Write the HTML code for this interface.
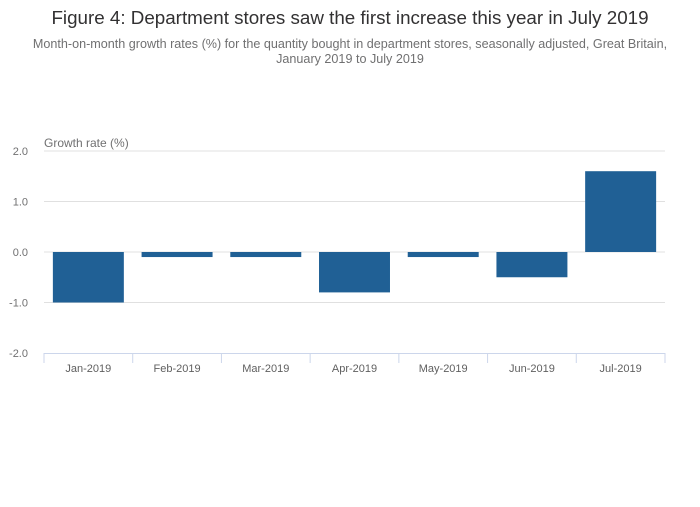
<!DOCTYPE html>
<html><head><meta charset="utf-8"><style>
body{margin:0;background:#fff;width:700px;height:502px;overflow:hidden;font-family:"Liberation Sans",sans-serif}
</style></head><body>
<svg width="700" height="502" font-family="Liberation Sans, sans-serif">
<text x="350" y="24" text-anchor="middle" font-size="18.8" fill="#323132">Figure 4: Department stores saw the first increase this year in July 2019</text>
<text x="350" y="48" text-anchor="middle" font-size="12.6" fill="#707071">Month-on-month growth rates (%) for the quantity bought in department stores, seasonally adjusted, Great Britain,</text>
<text x="350" y="63" text-anchor="middle" font-size="12.6" fill="#707071">January 2019 to July 2019</text>
<text x="44" y="147" font-size="12" fill="#707071">Growth rate (%)</text>
<g id="grid"></g><g id="bars"></g><g id="xaxis"></g>
</svg>
<script>
const categories=["Jan-2019","Feb-2019","Mar-2019","Apr-2019","May-2019","Jun-2019","Jul-2019"];
const values=[-1.0,-0.1,-0.1,-0.8,-0.1,-0.5,1.6];
const yTicks=[2,1,0,-1,-2];
const yTickLabels=["2.0","1.0","0.0","-1.0","-2.0"];
const NS="http://www.w3.org/2000/svg";
const L=44,R=665,T=151,B=353,ymin=-2,ymax=2;
const y=v=>B-(v-ymin)/(ymax-ymin)*(B-T);
const band=(R-L)/categories.length;
const x=i=>L+i*band;
function mk(t,a,p){const e=document.createElementNS(NS,t);for(const k in a)e.setAttribute(k,a[k]);p.appendChild(e);return e;}
const g=document.getElementById('grid'),gb=document.getElementById('bars'),gx=document.getElementById('xaxis');
yTicks.forEach((v,i)=>{
 if(v!==ymin){const l=mk('line',{x1:L,x2:R,y1:y(v),y2:y(v),stroke:'#e0e0e0','stroke-width':1},g);
 
 }
 const t=mk('text',{x:28,y:y(v)+4,'text-anchor':'end','font-size':11,fill:'#707071'},g);t.textContent=yTickLabels[i];
 
 
});
values.forEach((v,i)=>{
 const y0=y(0),y1=y(v);
 const r=mk('rect',{x:x(i)+band*0.1,width:band*0.8,y:Math.min(y0,y1),height:Math.abs(y1-y0),fill:'#206095'},gb);
 
 
});
const ax=mk('line',{x1:L,x2:R,y1:B+0.5,y2:B+0.5,stroke:'#ccd6eb'},gx);


for(let i=0;i<=categories.length;i++){
 const tk=mk('line',{x1:x(i),x2:x(i),y1:B,y2:B+10,stroke:'#ccd6eb'},gx);
 
 
}
categories.forEach((c,i)=>{
 const t=mk('text',{x:x(i)+band/2,y:B+19,'text-anchor':'middle','font-size':11,fill:'#606060'},gx);t.textContent=c;
 
 
});
</script>
</body></html>
